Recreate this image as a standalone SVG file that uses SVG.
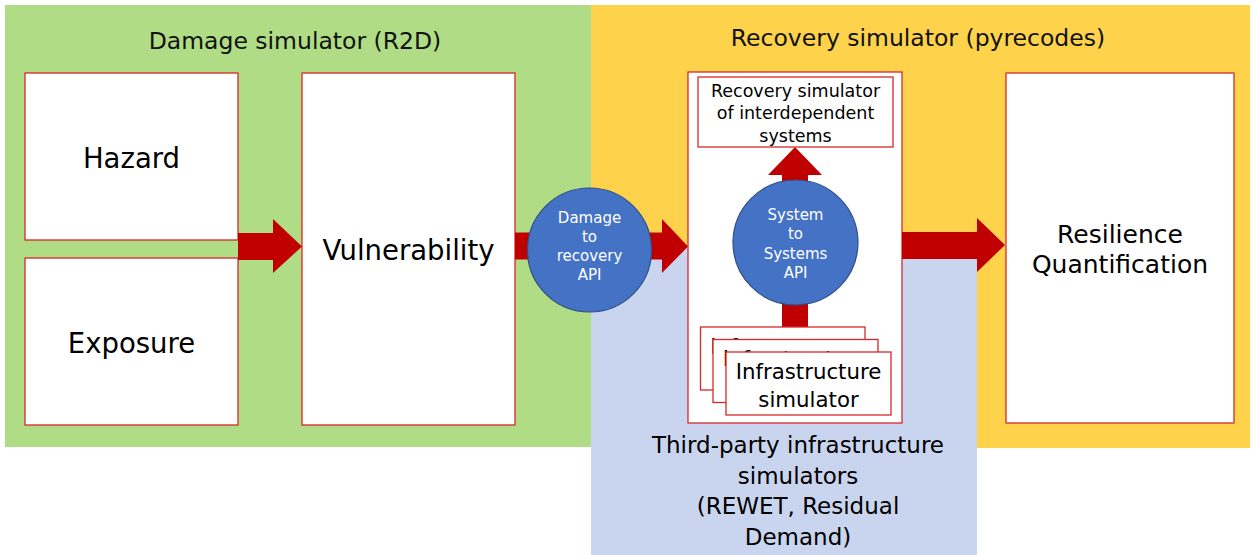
<svg xmlns="http://www.w3.org/2000/svg" width="1255" height="555" viewBox="0 0 1255 555">
<style>
text{font-family:"DejaVu Sans","Liberation Sans",sans-serif;text-anchor:middle;fill:#000}
.box{fill:#fff;stroke:#D8282B;stroke-width:1.3}
.api{fill:#4472C4;stroke:#2F4E86;stroke-width:1.2}
.api-t{fill:#fff;font-size:15px}
.arrow{fill:#C00000}
.title{font-size:23.5px;fill:#111}
.big{font-size:27.5px}
.infra{font-size:21.3px}
</style>
<rect width="1255" height="555" fill="#fff"/>
<g id="damage-simulator">
<rect x="5" y="5" width="586" height="442" fill="#AFDC84"/>
<text class="title" x="295" y="48.5">Damage simulator (R2D)</text>
</g>
<g id="recovery-simulator">
<rect x="591" y="5" width="659" height="443" fill="#FFD24B"/>
<text class="title" x="918" y="45.5">Recovery simulator (pyrecodes)</text>
</g>
<g id="third-party">
<rect x="591" y="247" width="386" height="308" fill="#C9D5EE"/>
<text style="font-size:23px" x="798" y="453">Third-party infrastructure</text>
<text style="font-size:23px" x="798" y="484">simulators</text>
<text style="font-size:23px" x="798" y="514">(REWET, Residual</text>
<text style="font-size:23px" x="798" y="545">Demand)</text>
</g>
<g id="hazard">
<rect class="box" x="25" y="73" width="213" height="167"/>
<text class="big" x="131.5" y="167.5">Hazard</text>
</g>
<g id="exposure">
<rect class="box" x="25" y="258" width="213" height="167"/>
<text class="big" x="131.5" y="352.5">Exposure</text>
</g>
<g id="vulnerability">
<rect class="box" x="302" y="73" width="213" height="352"/>
<text class="big" x="408.5" y="259.5">Vulnerability</text>
</g>
<g id="recovery-box">
<rect class="box" x="688" y="72" width="214" height="351"/>
</g>
<g id="resilience">
<rect class="box" x="1006" y="73" width="228" height="350"/>
<text style="font-size:25px" x="1120" y="243">Resilience</text>
<text style="font-size:25px" x="1120" y="273">Quantification</text>
</g>
<g id="connectors">
<polygon class="arrow" points="238,233 273,233 273,219 302,246.5 273,273 273,260 238,260"/>
<polygon class="arrow" points="515,232.5 662,232.5 662,219 688,246.5 662,273 662,259.5 515,259.5"/>
<polygon class="arrow" points="782,327 782,175 768,175 795,147 822,175 808,175 808,327"/>
<polygon class="arrow" points="902,232 977,232 977,218 1005,245 977,272 977,259 902,259"/>
</g>
<g id="interdependent">
<rect class="box" x="698" y="77" width="195" height="70"/>
<text style="font-size:17.5px" x="795.5" y="97">Recovery simulator</text>
<text style="font-size:17.5px" x="795.5" y="119">of interdependent</text>
<text style="font-size:17.5px" x="795.5" y="142">systems</text>
</g>
<g id="infra-1">
<rect class="box" x="700.5" y="327" width="164.5" height="63"/>
<text class="infra" x="783" y="353.5">Infrastructure</text>
</g>
<g id="infra-2">
<rect class="box" x="713" y="339.5" width="165" height="63"/>
<text class="infra" x="795.5" y="366">Infrastructure</text>
</g>
<g id="infra-3">
<rect class="box" x="726" y="352" width="165" height="63"/>
<text class="infra" x="808.5" y="378.5">Infrastructure</text>
<text class="infra" x="808.5" y="406.5">simulator</text>
</g>
<g id="damage-api">
<circle class="api" cx="589.5" cy="250" r="62"/>
<text class="api-t" x="589.5" y="222.5">Damage</text>
<text class="api-t" x="589.5" y="241.5">to</text>
<text class="api-t" x="589.5" y="260.5">recovery</text>
<text class="api-t" x="589.5" y="279.5">API</text>
</g>
<g id="system-api">
<circle class="api" cx="795.5" cy="242.5" r="62.5"/>
<text class="api-t" x="795.5" y="219.5">System</text>
<text class="api-t" x="795.5" y="238.5">to</text>
<text class="api-t" x="795.5" y="258.5">Systems</text>
<text class="api-t" x="795.5" y="277.5">API</text>
</g>
</svg>
